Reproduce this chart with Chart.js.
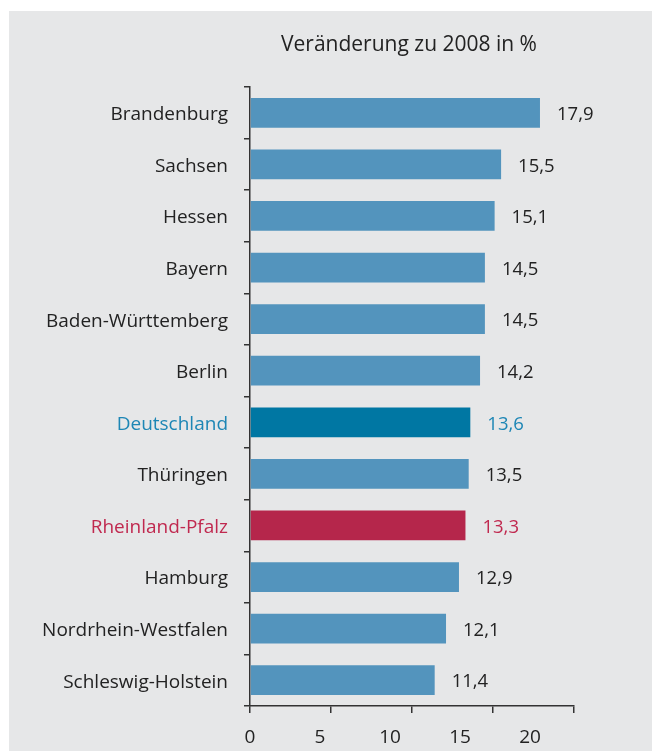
<!DOCTYPE html>
<html>
<head>
<meta charset="utf-8">
<script src="https://cdn.jsdelivr.net/npm/chart.js@4.4.1/dist/chart.umd.min.js"></script>
<style>
  html, body { margin: 0; padding: 0; background: #fff; }
  #wrap { position: relative; width: 652px; height: 751px; overflow: hidden; }
  #panel { position: absolute; left: 9px; top: 11px; right: 0; bottom: 0; background: #e6e7e8; }
  #chart { position: absolute; left: 0; top: 0; }
</style>
</head>
<body>
<div id="wrap">
  <div id="panel"></div>
  <canvas id="chart" width="652" height="751"></canvas>
</div>
<script>
// ================= DATA =================
const categories = [
  "Brandenburg", "Sachsen", "Hessen", "Bayern", "Baden-Württemberg", "Berlin",
  "Deutschland", "Thüringen", "Rheinland-Pfalz", "Hamburg", "Nordrhein-Westfalen", "Schleswig-Holstein"
];
const values = [17.9, 15.5, 15.1, 14.5, 14.5, 14.2, 13.6, 13.5, 13.3, 12.9, 12.1, 11.4];
const xTicks = [0, 5, 10, 15, 20];
const title = "Veränderung zu 2008 in %";

// ================= STYLE =================
const FONT = "'Open Sans', 'Noto Sans', sans-serif";
const barColor = "#5394bd";
const textColor = "#222222";
const axisColor = "#333333";
// highlighted rows: [bar colour, text colour]
const highlight = {
  "Deutschland": ["#0077a3", "#1d86b5"],
  "Rheinland-Pfalz": ["#b5264b", "#c0294f"]
};

const barColors = categories.map(c => highlight[c] ? highlight[c][0] : barColor);
const labelColors = categories.map(c => highlight[c] ? highlight[c][1] : textColor);

// the printed tick labels sit on a tighter spacing than the tick marks
const labelAxisMax = 23.14;

// ================= PLUGINS =================
const titlePlugin = {
  id: "titleText",
  afterDraw(chart){
    const ctx = chart.ctx, a = chart.chartArea;
    ctx.save();
    ctx.font = `21px ${FONT}`;
    ctx.fillStyle = textColor;
    ctx.textAlign = "center";
    ctx.textBaseline = "middle";
    ctx.fillText(title, (a.left + a.right) / 2 - 3, 45);
    ctx.restore();
  }
};

const valueLabels = {
  id: "valueLabels",
  afterDatasetsDraw(chart){
    const ctx = chart.ctx;
    const meta = chart.getDatasetMeta(0);
    ctx.save();
    ctx.font = `18.5px ${FONT}`;
    ctx.textAlign = "left";
    ctx.textBaseline = "middle";
    meta.data.forEach((bar, i) => {
      ctx.fillStyle = labelColors[i];
      ctx.fillText(values[i].toFixed(1).replace(".", ","), bar.x + 17, bar.y + 2);
    });
    ctx.restore();
  }
};

// ================= CHART =================
new Chart(document.getElementById("chart"), {
  type: "bar",
  data: {
    labels: categories,
    datasets: [{
      data: values,
      backgroundColor: barColors,
      borderWidth: 0,
      barPercentage: 0.72,
      categoryPercentage: 0.8
    }]
  },
  options: {
    indexAxis: "y",
    responsive: false,
    animation: false,
    events: [],
    layout: { padding: { top: 87, right: 78, left: 0, bottom: 0 } },
    plugins: { legend: { display: false }, tooltip: { enabled: false } },
    scales: {
      y: {
        type: "category",
        afterFit: s => { s.width = 250; },
        grid: { drawOnChartArea: false, tickLength: 6, color: axisColor, lineWidth: 1.5, offset: true },
        border: { color: axisColor, width: 1.5 },
        ticks: {
          padding: 16,
          labelOffset: 2,
          font: { family: FONT, size: 19 },
          color: ctx => labelColors[ctx.index]
        }
      },
      x: {
        type: "linear",
        position: "bottom",
        min: 0,
        max: 20,
        afterBuildTicks: s => { s.ticks = xTicks.map(v => ({ value: v })); },
        afterFit: s => { s.height = 7; },
        grid: { drawOnChartArea: false, tickLength: 7, color: axisColor, lineWidth: 1.5 },
        border: { color: axisColor, width: 1.5 },
        ticks: { display: false }
      },
      xLabels: {
        type: "linear",
        position: "bottom",
        min: 0,
        max: labelAxisMax,
        afterBuildTicks: s => { s.ticks = xTicks.map(v => ({ value: v })); },
        afterFit: s => { s.height = 38; },
        grid: { display: false, drawTicks: false },
        border: { display: false },
        ticks: {
          padding: 13,
          maxRotation: 0,
          font: { family: FONT, size: 19 },
          color: textColor
        }
      }
    }
  },
  plugins: [titlePlugin, valueLabels]
});
</script>
</body>
</html>
